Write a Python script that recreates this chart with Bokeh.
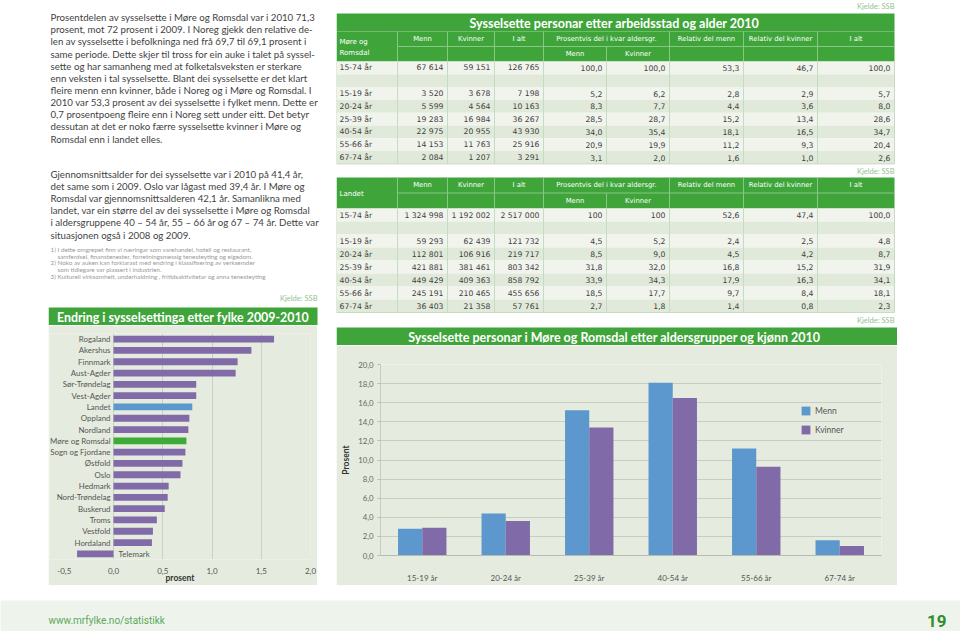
from bokeh.plotting import figure
from bokeh.layouts import row, column
from bokeh.models import (Range1d, FactorRange, FixedTicker, Spacer, ColumnDataSource,
                          Legend, LegendItem, CustomJSTickFormatter)
from bokeh.transform import dodge
from bokeh.core.properties import value
from bokeh.embed import file_html
from bokeh.resources import INLINE

# ---------------- data ----------------
counties = ["Rogaland", "Akershus", "Finnmark", "Aust-Agder", "Sør-Trøndelag", "Vest-Agder",
            "Landet", "Oppland", "Nordland", "Møre og Romsdal", "Sogn og Fjordane", "Østfold",
            "Oslo", "Hedmark", "Nord-Trøndelag", "Buskerud", "Troms", "Vestfold", "Hordaland",
            "Telemark"]
change = [1.63, 1.40, 1.26, 1.24, 0.84, 0.84, 0.80, 0.77, 0.76, 0.74, 0.73, 0.70, 0.68,
          0.56, 0.55, 0.52, 0.44, 0.40, 0.39, -0.37]
change_ticks = [-0.5, 0.0, 0.5, 1.0, 1.5, 2.0]
change_grid = [0.0, 0.5, 1.0, 1.5, 2.0]

age_rows = ["15-74 år", "", "15-19 år", "20-24 år", "25-39 år", "40-54 år", "55-66 år", "67-74 år"]

mr_menn = [67614, None, 3520, 5599, 19283, 22975, 14153, 2084]
mr_kvinner = [59151, None, 3678, 4564, 16984, 20955, 11763, 1207]
mr_ialt = [126765, None, 7198, 10163, 36267, 43930, 25916, 3291]
mr_pct_menn = [100.0, None, 5.2, 8.3, 28.5, 34.0, 20.9, 3.1]
mr_pct_kvinner = [100.0, None, 6.2, 7.7, 28.7, 35.4, 19.9, 2.0]
mr_rel_menn = [53.3, None, 2.8, 4.4, 15.2, 18.1, 11.2, 1.6]
mr_rel_kvinner = [46.7, None, 2.9, 3.6, 13.4, 16.5, 9.3, 1.0]
mr_rel_ialt = [100.0, None, 5.7, 8.0, 28.6, 34.7, 20.4, 2.6]

la_menn = [1324998, None, 59293, 112801, 421881, 449429, 245191, 36403]
la_kvinner = [1192002, None, 62439, 106916, 381461, 409363, 210465, 21358]
la_ialt = [2517000, None, 121732, 219717, 803342, 858792, 455656, 57761]
la_pct_menn = [100, None, 4.5, 8.5, 31.8, 33.9, 18.5, 2.7]
la_pct_kvinner = [100, None, 5.2, 9.0, 32.0, 34.3, 17.7, 1.8]
la_rel_menn = [52.6, None, 2.4, 4.5, 16.8, 17.9, 9.7, 1.4]
la_rel_kvinner = [47.4, None, 2.5, 4.2, 15.2, 16.3, 8.4, 0.8]
la_rel_ialt = [100.0, None, 4.8, 8.7, 31.9, 34.1, 18.1, 2.3]

chart_ages = age_rows[2:]
chart_menn = mr_rel_menn[2:]
chart_kvinner = mr_rel_kvinner[2:]
chart_ticks = [0, 2, 4, 6, 8, 10, 12, 14, 16, 18, 20]

para1 = [
    "Prosentdelen av sysselsette i Møre og Romsdal var i 2010 71,3",
    "prosent, mot 72 prosent i 2009. I Noreg gjekk den relative de-",
    "len av sysselsette i befolkninga ned frå 69,7 til 69,1 prosent i",
    "same periode. Dette skjer til tross for ein auke i talet på syssel-",
    "sette og har samanheng med at folketalsveksten er sterkare",
    "enn veksten i tal sysselsette. Blant dei sysselsette er det klart",
    "fleire menn enn kvinner, både i Noreg og i Møre og Romsdal. I",
    "2010 var 53,3 prosent av dei sysselsette i fylket menn. Dette er",
    "0,7 prosentpoeng fleire enn i Noreg sett under eitt. Det betyr",
    "dessutan at det er noko færre sysselsette kvinner i Møre og",
    "Romsdal enn i landet elles.",
]
para2 = [
    "Gjennomsnittsalder for dei sysselsette var i 2010 på 41,4 år,",
    "det same som i 2009. Oslo var lågast med 39,4 år. I Møre og",
    "Romsdal var gjennomsnittsalderen 42,1 år. Samanlikna med",
    "landet, var ein større del av dei sysselsette i Møre og Romsdal",
    "i aldersgruppene 40 – 54 år, 55 – 66 år og 67 – 74 år. Dette var",
    "situasjonen også i 2008 og 2009.",
]
note_nums = ["1)", "", "2)", "", "3)"]
note_lines = [
    "I dette omgrepet finn vi næringar som varehandel, hotell og restaurant,",
    "samferdsel, finanstenester, forretningsmessig tenesteyting og eigedom.",
    "Noko av auken kan forklarast med endring i klassifisering av verksemder",
    "som tidlegare var plassert i industrien.",
    "Kulturell virksomheit, underhaldning , fritidsaktivitetar og anna tenesteyting",
]

# ---------------- styles ----------------
GREEN = "#3fa53b"
HDR_LINE = "#86c982"
PANEL = "#e5ecdf"
PURPLE = "#806aa7"
BLUE = "#5c98cd"
MRGREEN = "#3daa3a"
TXT = "#3f3f3f"
KJ = "#93c28f"
FONT = "Lato"
TFONT = "DejaVu Sans"


def canvas(w, h, x0, x1, y_top, y_bot, bg="white"):
    p = figure(width=w, height=h, x_range=Range1d(x0, x1), y_range=Range1d(y_bot, y_top),
               output_backend="svg", toolbar_location=None, min_border=0,
               x_axis_type=None, y_axis_type=None)
    p.outline_line_color = None
    p.background_fill_color = bg
    p.border_fill_color = bg
    return p


def txt(p, xs, ys, ss, size, color, font=FONT, align="left", style="normal"):
    p.text(x=xs, y=ys, text=ss, text_font=value(font), text_font_size=size,
           text_color=color, text_align=align, text_baseline="middle", text_font_style=style)


def fmt(v):
    if v is None:
        return ""
    if isinstance(v, int):
        return "{:,}".format(v).replace(",", " ")
    return "{:.1f}".format(v).replace(".", ",")


# ---------------- left text canvas (x 48-336, y 0-325) ----------------
lt = canvas(288, 325, 48, 336, 0, 325)
txt(lt, [50] * len(para1), [16.7 + 12.13 * i for i in range(len(para1))], para1, "9.7px", TXT)
txt(lt, [50] * len(para2), [173.3 + 12.15 * i for i in range(len(para2))], para2, "9.7px", TXT)
ny = [249.0 + 6.7 * i for i in range(len(note_lines))]
txt(lt, [50] * 5, ny, note_nums, "6.3px", "#9a9a9a")
txt(lt, [57] * 5, ny, note_lines, "6.3px", "#9a9a9a")
txt(lt, [317], [298], ["Kjelde: SSB"], "7.5px", KJ, align="right")
lt.quad(left=[48], right=[317], top=[307], bottom=[325], color=GREEN, line_color=None)
txt(lt, [182.5], [316.5], ["Endring i sysselsettinga etter fylke 2009-2010"], "12.4px", "white",
    align="center", style="bold")

# ---------------- left bar chart (x 48-317, y 325-585) ----------------
lc = figure(width=269, height=260, y_range=FactorRange(factors=counties[::-1]),
            x_range=Range1d(-0.65, 2.0), output_backend="svg", toolbar_location=None,
            min_border_left=1, min_border_right=7, min_border_top=8, min_border_bottom=19)
lc.background_fill_color = PANEL
lc.border_fill_color = PANEL
lc.outline_line_color = None
bar_colors = [BLUE if c == "Landet" else MRGREEN if c == "Møre og Romsdal" else PURPLE
              for c in counties]
lc.hbar(y=counties, left=0, right=change, height=0.6, color=bar_colors, line_color=None)
pos = [(c, v) for c, v in zip(counties, change) if v >= 0]
neg = [(c, v) for c, v in zip(counties, change) if v < 0]
lc.text(x=[0] * len(pos), y=[c for c, _ in pos], text=[c for c, _ in pos], x_offset=-3,
        text_align="right", text_baseline="middle", text_font=value(FONT),
        text_font_size="7.9px", text_color="#555555")
lc.text(x=[0] * len(neg), y=[c for c, _ in neg], text=[c for c, _ in neg], x_offset=5,
        text_align="left", text_baseline="middle", text_font=value(FONT),
        text_font_size="7.9px", text_color="#555555")
lc.yaxis.visible = False
lc.ygrid.grid_line_color = None
lc.xaxis.ticker = FixedTicker(ticks=change_ticks)
lc.xgrid.ticker = FixedTicker(ticks=change_grid)
lc.xgrid.grid_line_color = "#c9d0c5"
lc.xaxis.formatter = CustomJSTickFormatter(code="return tick.toFixed(1).replace('.', ',')")
lc.xaxis.axis_line_color = None
lc.xaxis.major_tick_line_color = None
lc.xaxis.minor_tick_line_color = None
lc.xaxis.major_label_standoff = 2
lc.xaxis.major_label_text_font = FONT
lc.xaxis.major_label_text_font_size = "8px"
lc.xaxis.major_label_text_color = "#555555"
lc.xaxis.axis_label = "prosent"
lc.xaxis.axis_label_standoff = -4
lc.xaxis.axis_label_text_font = FONT
lc.xaxis.axis_label_text_font_size = "8.5px"
lc.xaxis.axis_label_text_font_style = "bold"
lc.xaxis.axis_label_text_color = "#333333"

# ---------------- right canvas: tables + chart title (x 336-897, y 0-345) ----------------
rt = canvas(561, 345, 336, 897, 0, 345)
edges = [336, 397, 447, 494, 543, 606, 669, 743, 817, 894]
centers = [(a + b) / 2 for a, b in zip(edges[:-1], edges[1:])]


def draw_table(p, hdr_top, hdr_mid, hdr_bot, row_h, label_lines, label_ys, cols):
    p.quad(left=[edges[0]], right=[edges[-1]], top=[hdr_top], bottom=[hdr_bot], color=GREEN,
           line_color=None)
    p.segment(x0=[edges[1]], x1=[edges[-1]], y0=[hdr_mid], y1=[hdr_mid], line_color=HDR_LINE,
              line_width=1)
    vx = [e for i, e in enumerate(edges[1:-1], start=1) if i != 5]
    p.segment(x0=vx, x1=vx, y0=[hdr_top] * len(vx), y1=[hdr_bot] * len(vx),
              line_color=HDR_LINE, line_width=1)
    p.segment(x0=[edges[5]], x1=[edges[5]], y0=[hdr_mid], y1=[hdr_bot], line_color=HDR_LINE,
              line_width=1)
    ym1 = (hdr_top + hdr_mid) / 2
    ym2 = (hdr_mid + hdr_bot) / 2
    h1 = ["Menn", "Kvinner", "I alt", "Prosentvis del i kvar aldersgr.", "Relativ del menn",
          "Relativ del kvinner", "I alt"]
    h1x = [centers[1], centers[2], centers[3], edges[5], centers[6], centers[7], centers[8]]
    txt(p, h1x, [ym1] * len(h1), h1, "6.8px", "white", font=TFONT, align="center")
    txt(p, [centers[4], centers[5]], [ym2, ym2], ["Menn", "Kvinner"], "6.8px", "white",
        font=TFONT, align="center")
    txt(p, [339] * len(label_lines), label_ys, label_lines, "7px", "white", font=TFONT)
    n = len(age_rows)
    tops = [hdr_bot + row_h * i for i in range(n)]
    bots = [t + row_h for t in tops]
    fills = ["#f1f4ed" if i % 2 == 0 else "#e1eada" for i in range(n)]
    p.quad(left=[edges[0]] * n, right=[edges[-1]] * n, top=tops, bottom=bots, color=fills,
           line_color=None)
    bx = edges[1:-1]
    p.segment(x0=bx, x1=bx, y0=[hdr_bot] * len(bx), y1=[bots[-1]] * len(bx),
              line_color="#c6dcc1", line_width=1)
    p.segment(x0=[edges[0], edges[-1], edges[0]], x1=[edges[0], edges[-1], edges[-1]],
              y0=[hdr_bot, hdr_bot, bots[-1]], y1=[bots[-1], bots[-1], bots[-1]],
              line_color="#c6dcc1", line_width=1)
    ys = [t + row_h / 2 for t in tops]
    txt(p, [339] * n, ys, age_rows, "7.7px", TXT, font=TFONT)
    for ci, col in enumerate(cols, start=1):
        txt(p, [edges[ci + 1] - 4] * n, ys, [fmt(v) for v in col], "7.7px", TXT, font=TFONT,
            align="right")


txt(rt, [894], [6], ["Kjelde: SSB"], "7.5px", KJ, align="right")
rt.quad(left=[edges[0]], right=[edges[-1]], top=[13], bottom=[31], color=GREEN, line_color=None)
txt(rt, [614], [22.5], ["Sysselsette personar etter arbeidsstad og alder 2010"], "12.5px",
    "white", align="center", style="bold")
draw_table(rt, 31, 46, 61, 12.8, ["Møre og", "Romsdal"], [41.5, 52],
           [mr_menn, mr_kvinner, mr_ialt, mr_pct_menn, mr_pct_kvinner, mr_rel_menn,
            mr_rel_kvinner, mr_rel_ialt])
txt(rt, [894], [171], ["Kjelde: SSB"], "7.5px", KJ, align="right")
draw_table(rt, 177, 192.5, 208, 13.0, ["Landet"], [193],
           [la_menn, la_kvinner, la_ialt, la_pct_menn, la_pct_kvinner, la_rel_menn,
            la_rel_kvinner, la_rel_ialt])
txt(rt, [894], [320], ["Kjelde: SSB"], "7.5px", KJ, align="right")
rt.quad(left=[336], right=[897], top=[327], bottom=[345], color=GREEN, line_color=None)
txt(rt, [614], [336.5],
    ["Sysselsette personar i Møre og Romsdal etter aldersgrupper og kjønn 2010"], "12.5px",
    "white", align="center", style="bold")

# ---------------- right bar chart (x 336-897, y 345-585) ----------------
src = ColumnDataSource(data=dict(age=chart_ages, menn=chart_menn, kvinner=chart_kvinner))
rc = figure(width=561, height=240, x_range=FactorRange(factors=chart_ages),
            y_range=Range1d(0, 20), output_backend="svg", toolbar_location=None,
            min_border_left=44, min_border_right=16, min_border_top=19, min_border_bottom=28)
rc.background_fill_color = PANEL
rc.border_fill_color = PANEL
rc.outline_line_color = None
r1 = rc.vbar(x=dodge("age", -0.145, range=rc.x_range), top="menn", width=0.29, source=src,
             color=BLUE, line_color=None)
r2 = rc.vbar(x=dodge("age", 0.145, range=rc.x_range), top="kvinner", width=0.29, source=src,
             color=PURPLE, line_color=None)
rc.x_range.range_padding = 0
rc.xgrid.grid_line_color = None
rc.ygrid.ticker = FixedTicker(ticks=chart_ticks)
rc.ygrid.grid_line_color = "#c6cec1"
rc.yaxis.ticker = FixedTicker(ticks=chart_ticks)
rc.yaxis.formatter = CustomJSTickFormatter(code="return tick.toFixed(1).replace('.', ',')")
rc.yaxis.axis_line_color = "#c6cec1"
rc.yaxis.major_tick_line_color = "#b5bdb0"
rc.yaxis.major_tick_out = 3
rc.yaxis.major_tick_in = 0
rc.yaxis.minor_tick_line_color = None
rc.yaxis.major_label_standoff = 4
rc.yaxis.major_label_text_font = FONT
rc.yaxis.major_label_text_font_size = "7.8px"
rc.yaxis.major_label_text_color = "#666666"
rc.yaxis.axis_label = "Prosent"
rc.yaxis.axis_label_standoff = 4
rc.yaxis.axis_label_text_font = FONT
rc.yaxis.axis_label_text_font_size = "8.5px"
rc.yaxis.axis_label_text_font_style = "bold"
rc.yaxis.axis_label_text_color = "#333333"
rc.xaxis.axis_line_color = "#b5bdb0"
rc.xaxis.major_tick_line_color = None
rc.xaxis.minor_tick_line_color = None
rc.xaxis.major_label_standoff = 11
rc.xaxis.major_label_text_font = FONT
rc.xaxis.major_label_text_font_size = "8px"
rc.xaxis.major_label_text_color = "#555555"
legend = Legend(items=[LegendItem(label="Menn", renderers=[r1]),
                       LegendItem(label="Kvinner", renderers=[r2])],
                location=(420, 120), glyph_width=11, glyph_height=11, label_height=11,
                spacing=8, padding=0, margin=0, border_line_color=None,
                background_fill_alpha=0, label_text_font=FONT, label_text_font_size="8.5px",
                label_text_color="#555555", label_standoff=4)
rc.add_layout(legend)

# ---------------- footer (x 0-960, y 600-631) ----------------
ft = canvas(960, 31, 0, 960, 600, 631, bg="#eef4ec")
txt(ft, [48], [620], ["www.mrfylke.no/statistikk"], "10px", "#5ba85a", font="Roboto")
txt(ft, [946], [620], ["19"], "17px", "#2f8f2f", font="Roboto", align="right", style="bold")

# each figure wrapped in its own row so that frames are not aligned across figures
left_col = column(row(lt, spacing=0), row(lc, Spacer(width=19, height=260), spacing=0),
                  Spacer(width=288, height=15), spacing=0)
right_col = column(row(rt, spacing=0), row(rc, spacing=0), Spacer(width=561, height=15),
                   spacing=0)
top = row(Spacer(width=48, height=600), left_col, right_col,
          Spacer(width=63, height=600), spacing=0)
page = column(top, row(ft, spacing=0), spacing=0)

open("out.html", "w").write(file_html(page, INLINE))
